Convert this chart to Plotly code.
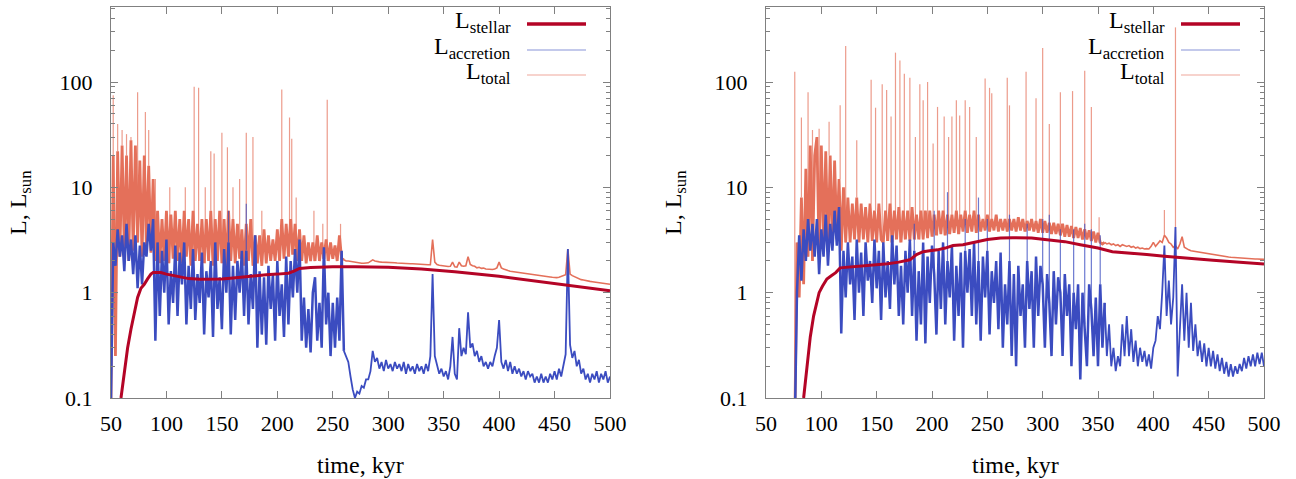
import plotly.graph_objects as go

# ---------------- data ----------------
# Left panel: dense band of each noisy curve on a 2-kyr grid starting at 50 kyr
left_t0 = 50
left_quiet_from = 260   # after this time the curves are calm
left_total = [
    0.1, 20, 0.25, 22, 2.2, 25, 2.5, 20, 2.0, 28,
    2.5, 25, 3, 18, 2.2, 20, 2.8, 16, 2.4, 12,
    2.0, 6, 1.9, 5, 2.0, 6, 1.9, 5.5, 2.1, 6,
    2.0, 5, 1.9, 6, 2.2, 5, 1.8, 6, 2.0, 4.5,
    2.0, 5, 1.9, 5, 2.0, 6, 1.8, 5, 2.0, 6,
    1.9, 5, 1.8, 6, 2.0, 5, 1.9, 4.5, 2.1, 4,
    1.8, 4.5, 2.0, 5, 1.8, 3.5, 1.9, 3.5, 1.8, 4,
    1.9, 3.5, 2.0, 3.2, 2.0, 4, 2.0, 5, 2.1, 4.5,
    2.2, 5, 2.3, 4.5, 2.0, 4, 2.0, 3.5, 1.9, 3,
    2.0, 3, 2.0, 3.5, 2.0, 3, 2.1, 3.2, 2.0, 3,
    2.1, 2.8, 2.0, 3.5, 2.1, 2.05, 2.0, 2.0, 1.98, 1.95,
    1.95, 1.93, 1.92, 1.9, 1.9, 1.9, 1.92, 1.98, 2.05, 2.0,
    1.97, 1.96, 1.95, 1.95, 1.94, 1.93, 1.93, 1.92, 1.92, 1.91,
    1.9, 1.9, 1.9, 1.89, 1.89, 1.88, 1.88, 1.87, 1.87, 1.86,
    1.86, 1.85, 1.85, 1.84, 1.84, 3.2, 1.95, 1.85, 1.82, 1.8,
    1.8, 1.78, 1.77, 1.78, 1.95, 1.76, 1.75, 1.95, 1.8, 1.78,
    1.8, 2.2, 1.85, 1.8, 1.78, 1.72, 1.74, 1.7, 1.71, 1.68,
    1.67, 1.66, 1.66, 1.68, 1.72, 1.95, 1.72, 1.68, 1.64, 1.62,
    1.6, 1.59, 1.57, 1.56, 1.55, 1.54, 1.53, 1.52, 1.51, 1.5,
    1.49, 1.48, 1.47, 1.46, 1.45, 1.44, 1.43, 1.42, 1.41, 1.4,
    1.39, 1.39, 1.4, 1.42, 1.45, 1.48, 2.6, 1.5, 1.45, 1.42,
    1.38, 1.35, 1.33, 1.32, 1.3, 1.29, 1.28, 1.27, 1.26, 1.25,
    1.24, 1.23, 1.23, 1.22, 1.21, 1.2,
]
left_total_spike_t = [52, 56, 60, 64, 68, 74, 81, 84, 90, 103, 117, 125, 129, 135, 140,
                      143, 150, 155, 160, 166, 172, 178, 186, 204, 211, 213, 217, 233,
                      241, 245, 257]
left_total_spike = [75, 40, 35, 32, 30, 80, 52, 35, 12, 10, 10, 90, 88, 10, 22,
                    21, 33, 24, 10, 12, 33, 30, 6, 85, 46, 29, 8, 6,
                    4.5, 68, 4.5]

left_accretion = [
    0.1, 3, 1.8, 4, 2.2, 3.5, 1.6, 4.5, 2.0, 3.2,
    1.5, 3.5, 1.1, 2.8, 1.2, 3, 2.2, 4.5, 2.5, 5,
    0.35, 3, 0.6, 2.5, 1.0, 3.2, 0.5, 1.6, 0.8, 2.8,
    0.6, 2.4, 1.2, 3, 0.5, 1.8, 0.7, 2.6, 0.55, 1.5,
    0.8, 2.4, 0.4, 1.6, 0.9, 2.0, 0.38, 3, 0.7, 1.4,
    0.45, 2.6, 1.0, 3, 0.4, 1.8, 0.55, 2.0, 1.0, 2.5,
    0.6, 2.5, 0.5, 1.5, 0.7, 3.5, 0.3, 1.6, 0.4, 1.4,
    0.32, 1.8, 0.7, 1.5, 0.35, 2.0, 0.6, 1.2, 0.38, 2.2,
    0.5, 2.0, 0.9, 2.6, 1.0, 3.2, 0.35, 0.9, 0.3, 0.7,
    0.27, 1.0, 1.4, 0.35, 0.8, 0.3, 2.7, 0.5, 1.0, 0.25,
    0.8, 0.3, 0.9, 0.35, 2.5, 0.28, 0.25, 0.22, 0.16, 0.12,
    0.1, 0.115, 0.11, 0.13, 0.125, 0.15, 0.15, 0.18, 0.28, 0.22,
    0.24, 0.19, 0.22, 0.18, 0.23, 0.19, 0.21, 0.18, 0.22, 0.19,
    0.21, 0.18, 0.22, 0.17, 0.21, 0.18, 0.2, 0.17, 0.21, 0.18,
    0.2, 0.17, 0.21, 0.18, 0.25, 1.5, 0.25, 0.2, 0.17, 0.19,
    0.16, 0.18, 0.15, 0.2, 0.38, 0.17, 0.15, 0.46, 0.25, 0.3,
    0.26, 0.65, 0.3, 0.33, 0.25, 0.28, 0.22, 0.25, 0.2, 0.22,
    0.19, 0.22, 0.2, 0.25, 0.3, 0.55, 0.22, 0.19, 0.23, 0.18,
    0.22, 0.17, 0.2, 0.17, 0.19, 0.16, 0.18, 0.15, 0.18, 0.16,
    0.17, 0.14, 0.16, 0.14, 0.17, 0.14, 0.16, 0.14, 0.17, 0.15,
    0.18, 0.15, 0.19, 0.16, 0.2, 0.26, 2.6, 0.32, 0.24, 0.28,
    0.2, 0.23, 0.17, 0.19, 0.15, 0.17, 0.14, 0.17, 0.15, 0.18,
    0.14, 0.17, 0.15, 0.18, 0.14, 0.16,
]
left_accretion_spike_t = [156, 172]
left_accretion_spike = [6, 7]

left_stellar_t = [59, 62, 65, 68, 71, 74, 77, 80, 83, 86, 88, 95, 100, 110, 120, 130,
                  140, 150, 160, 170, 180, 190, 200, 210, 215, 220, 230, 250, 270, 300,
                  330, 360, 400, 430, 460, 500]
left_stellar = [0.1, 0.18, 0.3, 0.45, 0.65, 0.9, 1.1, 1.2, 1.35, 1.5, 1.55, 1.55, 1.5,
                1.42, 1.36, 1.34, 1.34, 1.35, 1.38, 1.42, 1.45, 1.48, 1.5, 1.53, 1.6,
                1.7, 1.73, 1.76, 1.76, 1.74, 1.68, 1.58, 1.43, 1.3, 1.17, 1.04]

# Right panel: dense band on a 2-kyr grid starting at 76 kyr
right_t0 = 76
right_quiet_from = 356
right_total = [
    0.05, 3, 0.9, 8, 1.2, 15, 2.2, 25, 2.0, 20,
    30, 2.2, 25, 3.0, 22, 2.5, 20, 2.8, 18, 3.2,
    12, 2.5, 10, 3.0, 8, 3.0, 7, 3.2, 8, 3.0,
    7, 3.2, 6.5, 3.0, 7, 3.1, 6, 3.0, 7, 3.2,
    3.0, 6, 3.1, 7, 3.0, 6, 3.2, 6.5, 3.0, 6,
    3.2, 6, 3.1, 6.5, 3.2, 5.5, 3.2, 6, 3.2, 6,
    3.3, 6, 3.4, 5.5, 3.5, 6, 3.6, 6, 3.5, 5.5,
    3.6, 5.5, 3.7, 6, 3.6, 5.5, 3.8, 6, 3.7, 5.5,
    3.8, 6, 3.7, 5.5, 3.8, 5, 3.9, 5.5, 3.8, 5,
    3.9, 5.5, 3.8, 5, 3.9, 5, 3.8, 5, 3.9, 5,
    3.8, 5.2, 3.9, 5, 3.8, 4.8, 3.9, 5, 3.8, 4.8,
    3.7, 5, 3.7, 4.8, 3.7, 4.6, 3.6, 4.6, 3.6, 4.5,
    3.5, 4.5, 3.4, 4.4, 3.4, 4.3, 3.3, 4.2, 3.3, 4.1,
    3.2, 4.0, 3.2, 3.9, 3.1, 3.8, 3.0, 3.7, 3.0, 2.9,
    3.0, 2.9, 2.95, 2.85, 2.9, 2.8, 2.85, 2.75, 2.85, 2.8,
    2.75, 2.8, 2.7, 2.75, 2.65, 2.7, 2.62, 2.65, 2.6, 2.62,
    2.6, 2.75, 3.0, 2.75, 2.9, 3.1, 3.0, 3.5, 3.3, 3.0,
    2.9, 2.7, 2.8, 2.6, 2.9, 3.4, 2.7, 2.6, 2.55, 2.5,
    2.48, 2.45, 2.42, 2.4, 2.38, 2.35, 2.33, 2.31, 2.29, 2.27,
    2.26, 2.24, 2.23, 2.22, 2.2, 2.19, 2.18, 2.17, 2.16, 2.15,
    2.14, 2.14, 2.13, 2.12, 2.12, 2.11, 2.1, 2.1, 2.09, 2.09,
    2.08, 2.08, 2.07,
]
right_total_spike_t = [76, 82, 88, 92, 98, 107, 117, 122, 132, 145, 149, 155, 159, 163,
                       167, 171, 175, 180, 185, 189, 192, 196, 201, 205, 211, 215, 218,
                       222, 225, 230, 234, 240, 248, 252, 254, 268, 270, 285, 294, 300,
                       306, 316, 327, 338, 344, 351, 410, 420, 426]
right_total_spike = [125, 46, 80, 35, 36, 42, 60, 220, 28, 105, 57, 95, 84, 47,
                     190, 160, 120, 110, 30, 95, 67, 100, 26, 58, 47, 30, 47,
                     67, 48, 67, 58, 30, 108, 88, 78, 110, 60, 125, 70, 210,
                     40, 80, 82, 128, 58, 5.2, 6.1, 330, 3.4]

right_accretion = [
    0.05, 1.0, 3.5, 1.3, 4, 2.0, 5, 2.5, 4.5, 2.2,
    5, 1.5, 4, 2.2, 5.5, 1.8, 4.5, 2.5, 6, 2.8,
    6.5, 0.41, 2.5, 0.9, 3, 1.2, 2.2, 0.55, 3.2, 1.0,
    2.4, 0.6, 3, 1.3, 2.0, 0.8, 3.2, 1.1, 2.5, 0.55,
    3, 0.9, 2.0, 0.7, 3.5, 1.2, 2.8, 0.6, 1.8, 0.5,
    2.5, 1.0, 3.2, 0.6, 2.5, 0.35, 1.6, 0.5, 3, 0.33,
    2.2, 0.8, 2.8, 1.5, 0.4, 2.5, 0.7, 3, 0.5, 2.0,
    0.9, 2.8, 0.35, 1.8, 0.6, 2.4, 0.3, 2.5, 1.0, 2.6,
    0.6, 3, 0.5, 2.0, 0.35, 2.2, 0.9, 2.5, 0.4, 1.6,
    0.8, 2.0, 0.45, 2.4, 0.3, 1.2, 0.5, 2, 0.25, 1.5,
    0.2, 1.8, 0.6, 1.2, 0.3, 2, 0.7, 1.6, 0.3, 2.2,
    0.6, 1.8, 1.2, 0.3, 1.5, 0.8, 0.25, 1.6, 0.5, 1.4,
    1.0, 0.25, 1.5, 0.6, 1.2, 0.2, 1.0, 0.45, 1.2, 0.15,
    1.0, 0.5, 0.2, 1.2, 0.7, 0.25, 0.9, 0.2, 1.2, 0.3,
    0.8, 0.25, 0.5, 0.2, 0.3, 0.18, 0.25, 0.2, 0.5, 0.25,
    0.6, 0.25, 0.45, 0.22, 0.35, 0.2, 0.3, 0.22, 0.28, 0.2,
    0.26, 0.19, 0.3, 0.35, 0.6, 0.45, 1.0, 2.8, 0.6, 1.3,
    0.5, 0.9, 4.2, 0.16, 0.45, 1.2, 0.35, 1.0, 0.3, 0.8,
    0.28, 0.5, 0.25, 0.35, 0.22, 0.33, 0.2, 0.3, 0.2, 0.28,
    0.19, 0.26, 0.18, 0.24, 0.17, 0.22, 0.16, 0.21, 0.16, 0.2,
    0.17, 0.21, 0.18, 0.24, 0.19, 0.25, 0.2, 0.26, 0.2, 0.27,
    0.21, 0.27, 0.2,
]
right_accretion_spike_t = [184, 202, 214, 230, 242, 250, 270, 286, 300, 306, 316, 328,
                           338, 344, 352]
right_accretion_spike = [4.5, 6, 9, 5, 8, 5, 5.5, 4.5, 5, 5.5, 4, 4, 4.5, 4, 3.5]

right_stellar_t = [84, 87, 90, 93, 96, 98, 101, 105, 109, 113, 117, 125, 140, 150, 160,
                   170, 180, 186, 192, 198, 205, 212, 219, 228, 237, 250, 262, 273, 290,
                   304, 320, 334, 350, 363, 380, 394, 410, 424, 440, 454, 475, 500]
right_stellar = [0.1, 0.2, 0.38, 0.6, 0.85, 1.0, 1.15, 1.35, 1.45, 1.55, 1.72, 1.75, 1.78,
                 1.82, 1.88, 1.95, 2.05, 2.3, 2.45, 2.5, 2.55, 2.65, 2.8, 2.85, 3.0, 3.2,
                 3.3, 3.33, 3.3, 3.17, 3.05, 2.85, 2.65, 2.45, 2.35, 2.3, 2.22, 2.15, 2.1,
                 2.03, 1.95, 1.87]

x_ticks = [50, 100, 150, 200, 250, 300, 350, 400, 450, 500]
y_ticks = [0.1, 1, 10, 100]
y_tick_text = ["0.1", "1", "10", "100"]
y_minor = [m * d for d in (0.1, 1, 10, 100) for m in range(2, 10) if m * d <= 500]

legend_labels = ["L<sub>stellar</sub>", "L<sub>accretion</sub>", "L<sub>total</sub>"]

# ---------------- styling ----------------
C_STAR = "#B40426"
C_ACC = "#3B4CC0"
C_TOT = "#E4705A"
C_ACC_SP = "rgba(59,76,192,0.75)"
C_TOT_SP = "rgba(228,112,90,0.7)"
FONT = "Liberation Serif"
AXC = "#808080"

W, H = 1296, 479
ML, MR, MT, MB = 111, 32, 7, 81
PW = W - ML - MR
PH = H - MT - MB
LEFT_R = (610 - ML) / PW
RIGHT_L = (766 - ML) / PW


def grid(t0, n):
    return [t0 + 2 * i for i in range(n)]


def spikes(t0, band, sp_t, sp_v):
    xs, ys = [], []
    for t, v in zip(sp_t, sp_v):
        i = min(max(int(round((t - t0) / 2)), 0), len(band) - 1)
        xs += [t, t, None]
        ys += [min(band[i], v), v, None]
    return xs, ys


def add_band(fig, t0, vals, split_t, color, w_noisy, w_quiet, xa, ya):
    ts = grid(t0, len(vals))
    k = (split_t - t0) // 2
    for sl, w in ((slice(0, k + 1), w_noisy), (slice(k, None), w_quiet)):
        fig.add_trace(go.Scatter(x=ts[sl], y=vals[sl], mode="lines",
                                 line=dict(color=color, width=w), xaxis=xa, yaxis=ya,
                                 showlegend=False, hoverinfo="skip"))


fig = go.Figure()
panels = [
    ("x", "y", left_t0, left_quiet_from, left_total, left_total_spike_t,
     left_total_spike, left_accretion, left_accretion_spike_t, left_accretion_spike,
     left_stellar_t, left_stellar),
    ("x2", "y2", right_t0, right_quiet_from, right_total, right_total_spike_t,
     right_total_spike, right_accretion, right_accretion_spike_t,
     right_accretion_spike, right_stellar_t, right_stellar),
]
for (xa, ya, t0, tq, tot, tsp_t, tsp, acc, asp_t, asp, st_t, st) in panels:
    sx, sy = spikes(t0, tot, tsp_t, tsp)
    fig.add_trace(go.Scatter(x=sx, y=sy, mode="lines", connectgaps=False,
                             line=dict(color=C_TOT_SP, width=1.2), xaxis=xa, yaxis=ya,
                             showlegend=False, hoverinfo="skip"))
    add_band(fig, t0, tot, tq, C_TOT, 2.8, 1.6, xa, ya)
    add_band(fig, t0, acc, tq, C_ACC, 2.5, 1.8, xa, ya)
    ax, ay = spikes(t0, acc, asp_t, asp)
    fig.add_trace(go.Scatter(x=ax, y=ay, mode="lines", connectgaps=False,
                             line=dict(color=C_ACC_SP, width=1.2), xaxis=xa, yaxis=ya,
                             showlegend=False, hoverinfo="skip"))
    fig.add_trace(go.Scatter(x=st_t, y=st, mode="lines",
                             line=dict(color=C_STAR, width=3), xaxis=xa, yaxis=ya,
                             showlegend=False, hoverinfo="skip"))

tickfont = dict(family=FONT, size=22, color="black")
xcommon = dict(range=[50, 500], tickvals=x_ticks, ticks="inside", ticklen=7,
               tickcolor=AXC, mirror="allticks", showline=True, linecolor=AXC,
               linewidth=1, showgrid=False, zeroline=False, tickfont=tickfont,
               ticklabelstandoff=6)
ycommon = dict(type="log", range=[-1, 2.712], tickvals=y_ticks, ticktext=y_tick_text,
               ticks="inside", ticklen=7, tickcolor=AXC, mirror="allticks",
               showline=True, linecolor=AXC, linewidth=1, showgrid=False,
               zeroline=False, tickfont=tickfont, ticklabelstandoff=13,
               minor=dict(tickvals=y_minor, ticks="inside", ticklen=4,
                          tickcolor=AXC, showgrid=False))

fig.update_layout(
    width=W, height=H, margin=dict(l=ML, r=MR, t=MT, b=MB),
    paper_bgcolor="white", plot_bgcolor="white", showlegend=False,
    xaxis=dict(domain=[0, LEFT_R], anchor="y", **xcommon),
    yaxis=dict(domain=[0, 1], anchor="x", **ycommon),
    xaxis2=dict(domain=[RIGHT_L, 1], anchor="y2", **xcommon),
    yaxis2=dict(domain=[0, 1], anchor="x2", **ycommon),
)

annotations = []
shapes = []
for x0, x1 in ((0, LEFT_R), (RIGHT_L, 1)):
    xc = (x0 + x1) / 2
    annotations.append(dict(text="time, kyr", x=xc, y=(PH - (465 - MT)) / PH,
                            xref="paper", yref="paper", showarrow=False,
                            xanchor="center", yanchor="middle",
                            font=dict(family=FONT, size=24, color="black")))
    annotations.append(dict(text="L, L<sub>sun</sub>", x=x0 - 91 / PW,
                            y=(PH - (203 - MT)) / PH, xref="paper", yref="paper",
                            showarrow=False, textangle=-90, xanchor="center",
                            yanchor="middle",
                            font=dict(family=FONT, size=24, color="black")))
    right_px = x1 * PW
    rows = [(24, C_STAR, 3.5), (50, "rgba(59,76,192,0.6)", 1.2),
            (75, "rgba(228,112,90,0.6)", 1.2)]
    for (ypx, col, lw), lab in zip(rows, legend_labels):
        yp = (PH - (ypx - MT)) / PH
        annotations.append(dict(text=lab, x=(right_px - 97) / PW, y=yp + 2 / PH,
                                xref="paper", yref="paper", showarrow=False,
                                xanchor="right", yanchor="middle",
                                font=dict(family=FONT, size=24, color="black")))
        shapes.append(dict(type="line", xref="paper", yref="paper",
                           x0=(right_px - 83) / PW, x1=(right_px - 24) / PW,
                           y0=yp, y1=yp, line=dict(color=col, width=lw)))

fig.update_layout(annotations=annotations, shapes=shapes)
fig.write_html("out.html", config={"displayModeBar": False},
               post_script="document.body.style.margin='0px';")
